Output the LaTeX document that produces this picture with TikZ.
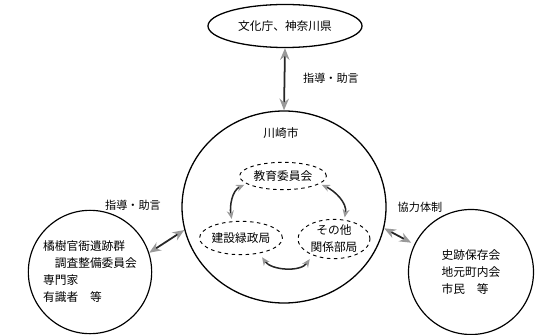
\documentclass[tikz,border=0pt]{standalone}
\usepackage{fontspec}
\newfontfamily\jp{Noto Sans CJK JP}
\usetikzlibrary{positioning,shapes.geometric,arrows.meta}

\begin{document}
\begin{tikzpicture}[x=0.03cm, y=0.03cm]
\tikzset{
    org/.style={ellipse, draw, line width=1.1pt, minimum width=4.62cm, minimum height=1.29cm},
    city/.style={ellipse, draw, line width=1.1pt, minimum width=6.12cm, minimum height=5.76cm},
    group/.style={circle, draw, line width=1pt, minimum size=3.7cm, align=left},
    dept/.style={ellipse, draw, dashed, line width=0.8pt, align=center, inner sep=0pt},
    every node/.style={font=\jp\fontsize{10}{14.5}\selectfont, text centered},
    link/.style={{Stealth[length=10pt, width=8pt, color=gray!80, fill=gray!45]}-{Stealth[length=10pt, width=8pt, color=gray!80, fill=gray!45]}, line width=1.5pt, draw=black!85},
    flow/.style={{Stealth[length=7pt, width=6pt, color=gray!80, fill=gray!45]}-{Stealth[length=7pt, width=6pt, color=gray!80, fill=gray!45]}, line width=1.3pt, draw=black!85, shorten <=2pt, shorten >=2pt},
    role/.style={font=\jp\fontsize{9.5}{11}\selectfont}
}
\useasboundingbox (0,0) rectangle (540,334);

% 組織
\node[org] (agency) at (285,308) {文化庁、神奈川県};
\node[city] (city) at (284,127) {};
\node (citylabel) at (281,201) {川崎市};
\node[group] (experts) at (90,62) {橘樹官衙遺跡群\\　調査整備委員会\\専門家\\有識者　等};
\node[group, minimum size=3.75cm] (locals) at (471,62) {史跡保存会\\地元町内会\\市民　等};

% 市の部局
\node[dept, minimum width=2.6cm, minimum height=0.82cm] (edu) at (283,158) {教育委員会};
\node[dept, minimum width=2.16cm, minimum height=1cm] (kensetsu) at (241,96) {建設緑政局};
\node[dept, minimum width=2.16cm, minimum height=1.1cm] (sonota) at (334,95) {その他\\関係部局};

% 関係の矢印
\draw[link] (agency.south) -- (city.north);
\draw[link] (experts.18) -- (city.193);
\draw[link, shorten >=3pt] (city.-12) -- (locals.154);

\draw[flow] (edu.192) to[out=205, in=100] (kensetsu.118);
\draw[flow] (edu.-12) to[out=-25, in=80] (sonota.62);
\draw[flow, shorten <=4pt, shorten >=4pt] (kensetsu.-40) to[out=-55, in=-125] (sonota.-143);

% 矢印のラベル
\node[role] (toplabel) at (331,256) {指導・助言};
\node[role] (leftlabel) at (133,129) {指導・助言};
\node[role] (rightlabel) at (420,127) {協力体制};
\end{tikzpicture}
\end{document}
